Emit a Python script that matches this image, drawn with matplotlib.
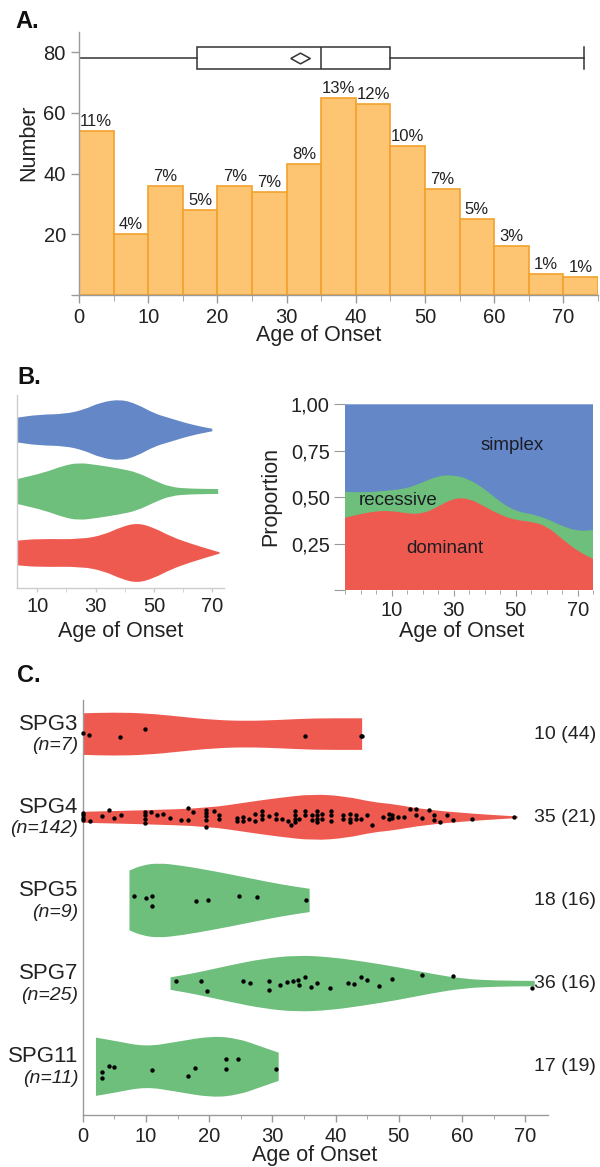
import matplotlib
matplotlib.use('Agg')
import numpy as np
import matplotlib.pyplot as plt
from matplotlib.path import Path
from matplotlib.patches import PathPatch

plt.rcParams['font.family'] = ['Liberation Sans', 'DejaVu Sans']

# ---- panel A: histogram of age of onset ----
hist_left = [0, 5, 10, 15, 20, 25, 30, 35, 40, 45, 50, 55, 60, 65, 70]
hist_count = [54, 20, 36, 28, 36, 34, 43, 65, 63, 49, 35, 25, 16, 7, 6]
hist_pct = ['11%', '4%', '7%', '5%', '7%', '7%', '8%', '13%', '12%', '10%',
            '7%', '5%', '3%', '1%', '1%']
box_min, box_q1, box_med, box_q3, box_max, box_mean = 0, 17, 35, 45, 73, 32

# ---- panel B left: violins by inheritance ----
simplex_x = [3, 10.4, 19.5, 26, 31.7, 38.6, 44.3, 50, 55.7, 62.6, 70]
simplex_hw = [0.20, 0.25, 0.26, 0.33, 0.45, 0.50, 0.42, 0.27, 0.19, 0.09, 0.02]
recessive_x = [3, 12.7, 18.4, 24, 30.8, 38.6, 44.3, 50, 55.7, 62.6, 72]
recessive_hw = [0.20, 0.31, 0.41, 0.47, 0.43, 0.37, 0.31, 0.18, 0.07, 0.045, 0.04]
dominant_x = [3, 10.4, 25.2, 33.2, 38.6, 44.3, 50, 55.7, 62.6, 72.5]
dominant_hw = [0.20, 0.23, 0.22, 0.30, 0.42, 0.49, 0.41, 0.27, 0.15, 0.01]

# ---- panel B right: proportions ----
stack_x = [-5, 0, 5, 10, 15, 20, 25, 30, 35, 40, 45, 50, 55, 60, 65, 70, 75]
dominant_prop = [0.39, 0.41, 0.425, 0.427, 0.413, 0.41, 0.45, 0.495, 0.494, 0.45,
                 0.405, 0.377, 0.369, 0.345, 0.275, 0.21, 0.168]
recessive_prop = [0.14, 0.116, 0.105, 0.111, 0.135, 0.17, 0.165, 0.125, 0.103,
                  0.095, 0.07, 0.048, 0.041, 0.04, 0.07, 0.108, 0.156]
simplex_prop = [0.47, 0.474, 0.47, 0.462, 0.452, 0.42, 0.385, 0.38, 0.403, 0.455,
                0.525, 0.575, 0.59, 0.615, 0.655, 0.682, 0.676]

# ---- panel C: genes ----
genes = ['SPG3', 'SPG4', 'SPG5', 'SPG7', 'SPG11']
gene_n = ['(n=7)', '(n=142)', '(n=9)', '(n=25)', '(n=11)']
gene_stats = ['10 (44)', '35 (21)', '18 (16)', '36 (16)', '17 (19)']
gene_dominant = [True, True, False, False, False]

spg3_x = [0, 4.9, 10.1, 15.4, 20.7, 26, 31.2, 36.5, 44.2]
spg3_hw = [0.25, 0.26, 0.25, 0.21, 0.17, 0.157, 0.17, 0.19, 0.19]
spg4_x = [0, 10, 19.8, 26, 30.7, 36.5, 41.7, 46, 49, 54, 62, 68.8]
spg4_hw = [0.066, 0.084, 0.11, 0.18, 0.23, 0.28, 0.25, 0.18, 0.16, 0.093, 0.04, 0.01]
spg5_x = [7.4, 9.3, 11.9, 15.6, 20.9, 26.2, 31.5, 35.9]
spg5_hw = [0.36, 0.42, 0.45, 0.42, 0.35, 0.27, 0.19, 0.14]
spg7_x = [13.9, 18, 23.3, 28.6, 33.9, 39.1, 44.4, 49.7, 55, 60.2, 65.5, 71.5]
spg7_hw = [0.075, 0.13, 0.22, 0.30, 0.34, 0.32, 0.265, 0.20, 0.12, 0.056, 0.036, 0.032]
spg11_x = [2.1, 5.2, 10, 14.9, 20.4, 24.6, 28.3, 31]
spg11_hw = [0.35, 0.31, 0.24, 0.30, 0.37, 0.34, 0.24, 0.17]

spg3_age = [0.1, 1.0, 5.9, 9.9, 35.2, 44.0, 44.1]
spg3_dy = [0.016, -0.008, -0.04, 0.064, -0.02, -0.024, -0.024]
spg4_age = [0.1, 0.1, 0.1, 0.1, 1.2, 3.0, 4.1, 5.0, 6.0, 9.9, 9.9, 9.9, 9.9, 10.8,
            11.8, 12.7, 13.8, 15.6, 16.6, 16.6, 17.5, 19.5, 19.5, 19.5, 19.5, 19.5,
            20.7, 21.5, 21.5, 24.4, 24.4, 25.3, 25.3, 26.3, 27.3, 27.3, 28.3, 28.3,
            28.3, 29.4, 30.5, 30.5, 31.5, 32.4, 32.9, 33.6, 33.6, 33.6, 33.6, 34.2,
            35.2, 35.2, 36.3, 36.3, 37.0, 37.0, 37.0, 37.0, 37.9, 37.9, 39.2, 39.2,
            39.2, 41.1, 41.1, 42.3, 42.3, 42.3, 43.2, 43.2, 44.0, 44.9, 45.7, 47.5,
            48.5, 48.5, 48.9, 48.9, 49.8, 50.8, 51.8, 52.7, 52.7, 53.6, 54.7, 55.6,
            55.6, 56.5, 57.6, 58.5, 61.5, 68.3]
spg4_dy = [0.052, 0.024, -0.008, -0.028, -0.04, 0.012, 0.084, -0.008, 0.024, 0.064,
           0.024, -0.016, -0.068, 0.064, 0.024, 0.04, -0.008, -0.028, -0.028, 0.112,
           0.064, 0.092, 0.052, 0.012, -0.028, -0.116, 0.072, 0.024, -0.016, -0.008,
           -0.048, -0.04, 0.0, -0.016, 0.04, -0.048, 0.072, 0.024, -0.016, 0.012,
           -0.016, 0.04, -0.016, -0.048, -0.096, 0.072, 0.032, -0.016, -0.056, -0.016,
           0.08, 0.024, 0.024, -0.028, 0.072, 0.032, -0.016, -0.056, 0.04, -0.016,
           0.08, 0.024, -0.04, 0.024, -0.016, 0.04, -0.016, -0.056, 0.024, -0.016,
           -0.016, 0.024, -0.096, 0.0, 0.04, -0.016, 0.024, -0.008, 0.004, 0.0,
           0.104, 0.104, 0.024, -0.008, 0.092, 0.024, -0.028, -0.056, 0.024, -0.028,
           -0.016, 0.004]
spg5_age = [8.1, 10.0, 11.0, 11.0, 17.9, 19.8, 24.7, 27.6, 35.4]
spg5_dy = [0.056, 0.032, 0.056, -0.064, -0.004, 0.0, 0.056, 0.036, 0.008]
spg7_age = [14.8, 18.7, 19.6, 25.4, 26.5, 29.4, 29.4, 31.2, 32.3, 33.2, 34.1, 34.2,
            35.2, 36.1, 37.1, 39.1, 42.0, 42.9, 44.0, 44.9, 46.9, 48.9, 53.6, 58.6,
            71.0]
spg7_dy = [0.028, 0.036, -0.084, 0.036, 0.008, 0.036, -0.072, -0.012, 0.016, 0.028,
           0.048, -0.012, 0.076, -0.044, 0.008, -0.052, 0.004, -0.004, 0.076, 0.048,
           -0.024, 0.056, 0.108, 0.088, -0.056]
spg11_age = [3.0, 3.0, 4.1, 5.0, 11.0, 16.7, 17.8, 22.7, 22.7, 24.6, 30.5]
spg11_dy = [-0.06, -0.14, 0.008, 0.0, -0.04, -0.112, -0.012, 0.088, -0.032, 0.088,
            -0.028]

ORANGE = '#FDC572'
ORANGE_EDGE = '#F3A12E'
RED = '#EF5A50'
GREEN = '#6DBF7B'
BLUE = '#6487C7'
AXIS = '#9a9a9a'
TXT = '#222222'

W, H = 600, 1167


def rect(l, t, r, b):
    return [l / W, 1 - b / H, (r - l) / W, (b - t) / H]


def style_axis(ax, spine_color=AXIS):
    for s in ['top', 'right']:
        ax.spines[s].set_visible(False)
    for s in ['left', 'bottom']:
        ax.spines[s].set_color(spine_color)
        ax.spines[s].set_linewidth(1.0)
    ax.tick_params(colors=AXIS, labelcolor=TXT, width=1.0)


def smooth_edge(pts):
    # quadratic bezier pieces through the read points (points act as controls)
    verts, codes = [], []
    if len(pts) > 2:
        verts.append(((pts[0][0] + pts[1][0]) / 2, (pts[0][1] + pts[1][1]) / 2))
        codes.append(Path.LINETO)
        for i in range(1, len(pts) - 1):
            nxt = ((pts[i][0] + pts[i + 1][0]) / 2, (pts[i][1] + pts[i + 1][1]) / 2)
            verts += [pts[i], nxt]
            codes += [Path.CURVE3, Path.CURVE3]
    verts.append(pts[-1])
    codes.append(Path.LINETO)
    return verts, codes


def band(ax, xs, lower, upper, color, zorder=1):
    top = list(zip(xs, upper))
    bot = list(zip(xs, lower))[::-1]
    v1, c1 = smooth_edge(top)
    v2, c2 = smooth_edge(bot)
    verts = [top[0]] + v1 + [bot[0]] + v2 + [top[0]]
    codes = [Path.MOVETO] + c1 + [Path.LINETO] + c2 + [Path.CLOSEPOLY]
    ax.add_patch(PathPatch(Path(verts, codes), facecolor=color, edgecolor='none',
                           zorder=zorder))


def violin(ax, pos, xs, hw, color):
    hw = np.array(hw)
    band(ax, xs, pos - hw, pos + hw, color)


fig = plt.figure(figsize=(6, 11.67), dpi=100)

# ---------------- A ----------------
axA = fig.add_axes(rect(79, 32, 598, 295))
axA.bar(hist_left, hist_count, width=5, align='edge', color=ORANGE,
        edgecolor=ORANGE_EDGE, linewidth=1.2, zorder=2)
for x, c, p in zip(hist_left, hist_count, hist_pct):
    axA.annotate(p, (x + 2.5, c), xytext=(0, 1.5), textcoords='offset points',
                 ha='center', va='bottom', fontsize=12, color=TXT)
diamond = [(-1, 0), (0, 0.55), (1, 0), (0, -0.55), (-1, 0)]
stats = [dict(whislo=box_min, q1=box_q1, med=box_med, q3=box_q3,
              whishi=box_max, mean=box_mean, fliers=[])]
line = dict(color='#333333', linewidth=1.1)
axA.bxp(stats, positions=[78], widths=7, capwidths=7, orientation='horizontal',
        showmeans=True, manage_ticks=False, patch_artist=True,
        boxprops=dict(facecolor='white', edgecolor='#333333', linewidth=1.1),
        whiskerprops=line, capprops=line, medianprops=line,
        meanprops=dict(marker=diamond, markerfacecolor='white',
                       markeredgecolor='#333333', markersize=14,
                       markeredgewidth=1.1))
axA.set_xlim(0, 75)
axA.set_ylim(0, 86.6)
style_axis(axA)
axA.set_xticks(range(0, 71, 10))
axA.set_xticks(range(5, 76, 10), minor=True)
axA.set_yticks([0, 20, 40, 60, 80])
axA.set_yticklabels(['', '20', '40', '60', '80'])
axA.tick_params(labelsize=14.5, length=6)
axA.tick_params(which='minor', colors=AXIS, length=4)
fig.text(319 / W, 1 - 336 / H, 'Age of Onset', ha='center', va='center',
         fontsize=15.5, color=TXT)
fig.text(29 / W, 1 - 143 / H, 'Number', ha='center', va='center',
         rotation=90, fontsize=15.5, color=TXT)
fig.text(15 / W, 1 - 10 / H, 'A.', ha='left', va='top', fontsize=17,
         fontweight='bold', color='#111111')

# ---------------- B left ----------------
axBL = fig.add_axes(rect(16.7, 395, 224, 588))
violin(axBL, 3, simplex_x, simplex_hw, BLUE)
violin(axBL, 2, recessive_x, recessive_hw, GREEN)
violin(axBL, 1, dominant_x, dominant_hw, RED)
axBL.set_xlim(3, 74)
axBL.set_ylim(0.43, 3.57)
style_axis(axBL, '#cccccc')
axBL.set_yticks([])
axBL.set_xticks([10, 30, 50, 70])
axBL.set_xticks([20, 40, 60], minor=True)
axBL.tick_params(colors='#cccccc', labelcolor=TXT, labelsize=14.5, length=3)
axBL.tick_params(which='minor', colors='#cccccc', length=3)
fig.text(121 / W, 1 - 632 / H, 'Age of Onset', ha='center', va='center',
         fontsize=15.5, color=TXT)
fig.text(17 / W, 1 - 366 / H, 'B.', ha='left', va='top', fontsize=17,
         fontweight='bold', color='#111111')

# ---------------- B right ----------------
axBR = fig.add_axes(rect(345, 404.3, 593.3, 590.3))
dom = np.array(dominant_prop)
rec_top = dom + np.array(recessive_prop)
all_top = rec_top + np.array(simplex_prop)
zero = np.zeros(len(stack_x))
band(axBR, stack_x, zero, all_top, BLUE, zorder=1)
band(axBR, stack_x, zero, rec_top, GREEN, zorder=2)
band(axBR, stack_x, zero, dom, RED, zorder=3)
axBR.set_xlim(-5, 75)
axBR.set_ylim(0, 1)
for s in axBR.spines.values():
    s.set_visible(False)
axBR.set_yticks([0, 0.25, 0.5, 0.75, 1.0])
axBR.set_yticklabels(['', '0,25', '0,50', '0,75', '1,00'])
axBR.set_xticks([10, 30, 50, 70])
axBR.set_xticks(range(-5, 76, 5), minor=True)
axBR.tick_params(colors=AXIS, labelcolor=TXT, labelsize=14.5, length=4)
axBR.tick_params(axis='y', length=8, pad=3)
axBR.tick_params(which='minor', colors=AXIS, length=3)
for label, lx, ly in [('simplex', 48.7, 0.777), ('recessive', 12, 0.485),
                      ('dominant', 27.1, 0.225)]:
    axBR.text(lx, ly, label, ha='center', va='center', fontsize=13.5,
              color='#1c1c24', zorder=5)
fig.text(462 / W, 1 - 632 / H, 'Age of Onset', ha='center', va='center',
         fontsize=15.5, color=TXT)
fig.text(271 / W, 1 - 497 / H, 'Proportion', ha='center', va='center',
         rotation=90, fontsize=15.5, color=TXT)

# ---------------- C ----------------
axC = fig.add_axes(rect(82.7, 700, 548, 1115))
shapes = [(spg3_x, spg3_hw), (spg4_x, spg4_hw), (spg5_x, spg5_hw),
          (spg7_x, spg7_hw), (spg11_x, spg11_hw)]
dots = [(spg3_age, spg3_dy), (spg4_age, spg4_dy), (spg5_age, spg5_dy),
        (spg7_age, spg7_dy), (spg11_age, spg11_dy)]
for i, g in enumerate(genes):
    pos = 5 - i
    col = RED if gene_dominant[i] else GREEN
    xs, hw = shapes[i]
    violin(axC, pos, xs, hw, col)
    ages, dy = dots[i]
    axC.scatter(ages, pos + np.array(dy), s=10, color='black', zorder=3,
                linewidths=0, clip_on=False)
    axC.text(-0.7, pos + 0.12, g, ha='right', va='center', fontsize=16,
             color=TXT)
    axC.text(-0.7, pos - 0.14, gene_n[i], ha='right', va='center', fontsize=14,
             style='italic', color=TXT)
    axC.text(81.2, pos, gene_stats[i], ha='right', va='center', fontsize=14,
             color=TXT, clip_on=False)
axC.set_xlim(0, 73.6)
axC.set_ylim(0.42, 5.41)
style_axis(axC)
axC.set_yticks([])
axC.set_xticks(range(0, 71, 10))
axC.set_xticks(range(5, 71, 10), minor=True)
axC.tick_params(labelsize=14.5, length=5)
axC.tick_params(which='minor', colors=AXIS, length=3)
fig.text(315 / W, 1 - 1155 / H, 'Age of Onset', ha='center', va='center',
         fontsize=15.5, color=TXT)
fig.text(17 / W, 1 - 664 / H, 'C.', ha='left', va='top', fontsize=17,
         fontweight='bold', color='#111111')

fig.savefig('out.png', dpi=100)
